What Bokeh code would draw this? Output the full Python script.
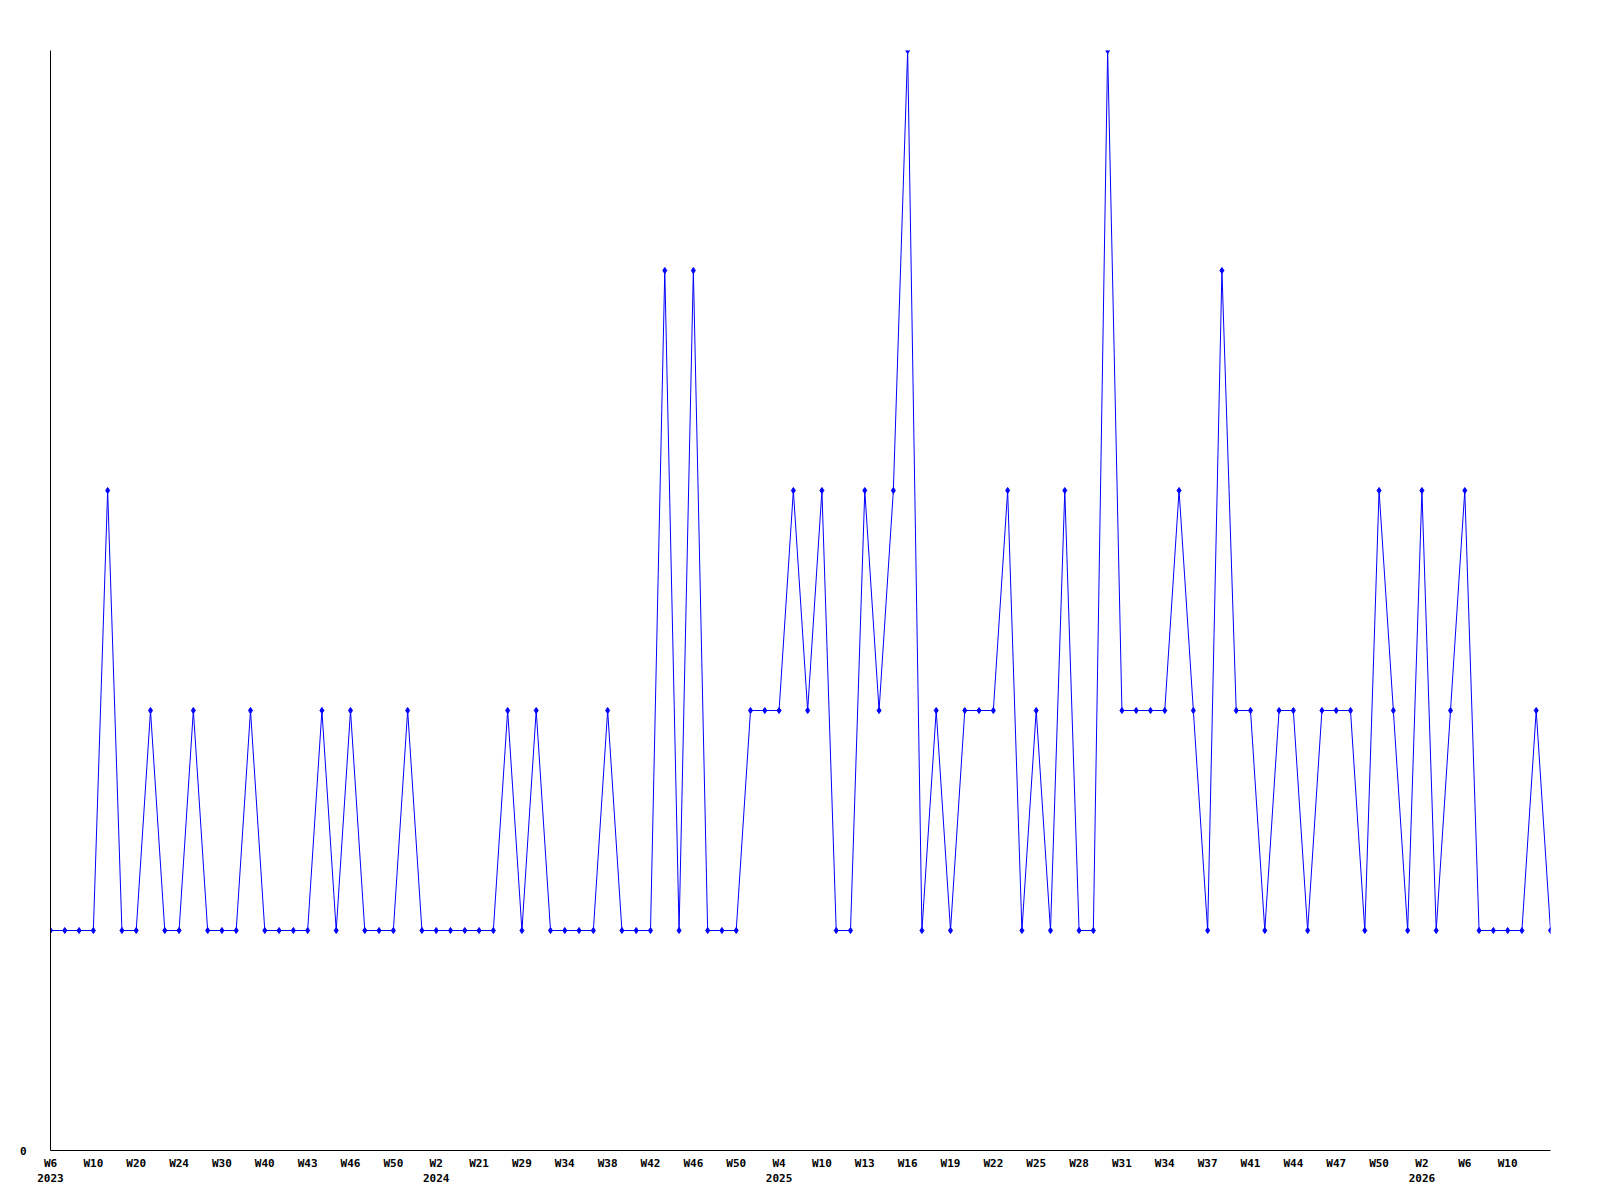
from bokeh.plotting import figure
from bokeh.models import Range1d, FixedTicker
from bokeh.embed import file_html
from bokeh.resources import INLINE

# weekly counts (one point per week that has data)
values = [1, 1, 1, 1, 3, 1, 1, 2, 1, 1,
          2, 1, 1, 1, 2, 1, 1, 1, 1, 2,
          1, 2, 1, 1, 1, 2, 1, 1, 1, 1,
          1, 1, 2, 1, 2, 1, 1, 1, 1, 2,
          1, 1, 1, 4, 1, 4, 1, 1, 1, 2,
          2, 2, 3, 2, 3, 1, 1, 3, 2, 3,
          5, 1, 2, 1, 2, 2, 2, 3, 1, 2,
          1, 3, 1, 1, 5, 2, 2, 2, 2, 3,
          2, 1, 4, 2, 2, 1, 2, 2, 1, 2,
          2, 2, 1, 3, 2, 1, 3, 1, 2, 3,
          1, 1, 1, 1, 2, 1]

# tick labels shown every third point
week_labels = ["W6", "W10", "W20", "W24", "W30", "W40", "W43", "W46", "W50",
               "W2", "W21", "W29", "W34", "W38", "W42", "W46", "W50",
               "W4", "W10", "W13", "W16", "W19", "W22", "W25", "W28", "W31",
               "W34", "W37", "W41", "W44", "W47", "W50",
               "W2", "W6", "W10"]
year_labels = ["2023", "", "", "", "", "", "", "", "",
               "2024", "", "", "", "", "", "", "",
               "2025", "", "", "", "", "", "", "", "",
               "", "", "", "", "", "",
               "2026", "", ""]
label_step = 3

xs = list(range(len(values)))
tick_pos = [i * label_step for i in range(len(week_labels))]
overrides = {}
for pos, w, yr in zip(tick_pos, week_labels, year_labels):
    overrides[pos] = w + ("\n" + yr if yr else "")

p = figure(frame_width=1500, frame_height=1100,
           min_border_left=50, min_border_top=50,
           min_border_right=30, min_border_bottom=36,
           x_range=Range1d(0, len(values) - 1), y_range=Range1d(0, 5),
           output_backend="svg", toolbar_location=None)

p.line(xs, values, line_color="#0000ff", line_width=1)
p.scatter(xs, values, marker="diamond", size=6, fill_color="#0000ff",
          line_color="#0000ff", line_width=1)

p.grid.visible = False
p.outline_line_color = None
p.background_fill_color = "white"
p.border_fill_color = "white"

font = "DejaVu Sans Mono"
xa = p.xaxis[0]
xa.ticker = FixedTicker(ticks=tick_pos)
xa.major_label_overrides = overrides
xa.major_tick_out = 0
xa.major_tick_in = 0
xa.minor_tick_out = 0
xa.minor_tick_in = 0
xa.axis_line_color = "black"
xa.major_label_text_font = font
xa.major_label_text_font_style = "bold"
xa.major_label_text_font_size = "11px"
xa.major_label_text_color = "black"
xa.major_label_standoff = 6

ya = p.yaxis[0]
ya.ticker = FixedTicker(ticks=[0])
ya.major_tick_out = 0
ya.major_tick_in = 0
ya.minor_tick_out = 0
ya.minor_tick_in = 0
ya.axis_line_color = "black"
ya.major_label_text_font = font
ya.major_label_text_font_style = "bold"
ya.major_label_text_font_size = "11px"
ya.major_label_text_color = "black"
ya.major_label_standoff = 24

open("out.html", "w").write(file_html(p, INLINE))
